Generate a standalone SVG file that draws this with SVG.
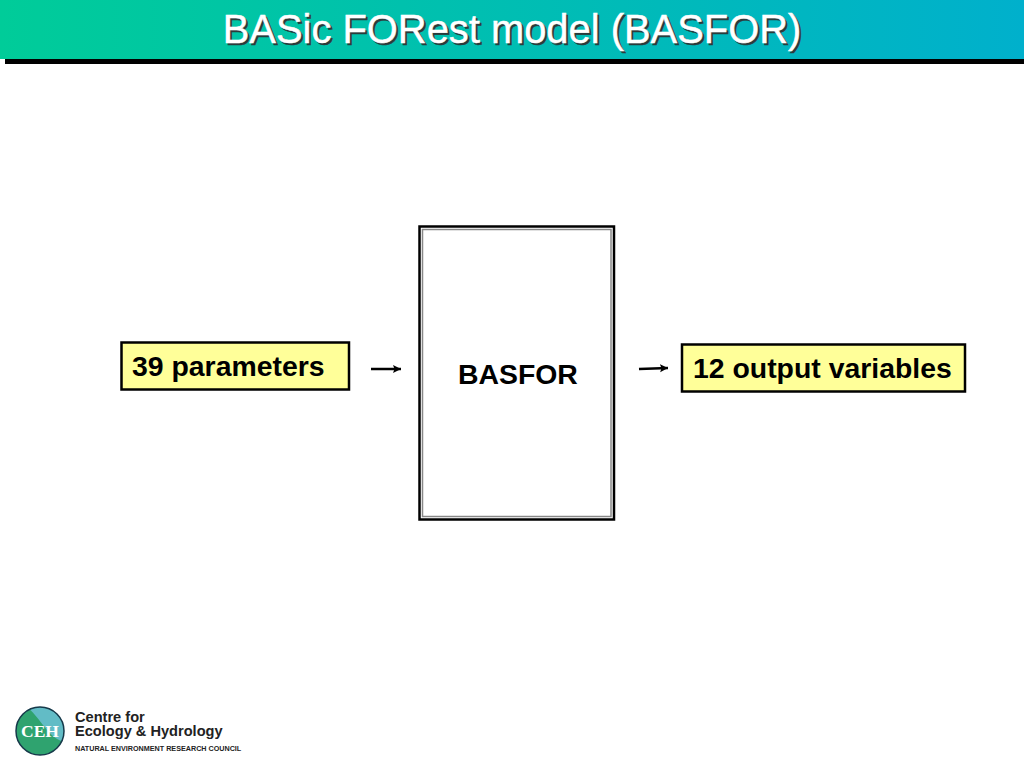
<svg xmlns="http://www.w3.org/2000/svg" width="1024" height="768" viewBox="0 0 1024 768">
<style>
.t{font-family:"Liberation Sans",Arial,sans-serif}
.lbl{font-size:28.400px;font-weight:700;fill:#000}
.box{fill:#ffff99;stroke:#000;stroke-width:2.500}
.arr{stroke:#000;stroke-width:2.500;fill:none;marker-end:url(#ah)}
.title{font-size:39.900px;text-anchor:middle}
</style>
<defs>
<linearGradient id="band" x1="0" x2="1" y1="0" y2="0"><stop offset="0" stop-color="#00cc99"/><stop offset="1" stop-color="#00b0cc"/></linearGradient>
<marker id="ah" markerUnits="userSpaceOnUse" markerWidth="10" markerHeight="10" refX="8" refY="4" orient="auto"><path d="M0 0L8 4L0 8L1.500 4Z" fill="#000"/></marker>
<clipPath id="logo"><circle cx="40" cy="731" r="24"/></clipPath>
</defs>
<rect width="1024" height="768" fill="#fff"/>
<g id="header">
<rect x="5" y="59" width="1019" height="5" fill="#000"/>
<rect x="0" y="0" width="1024" height="59" fill="url(#band)"/>
<text class="t title" x="514" y="45" fill="#2b3b3b" stroke="#2b3b3b" stroke-width="0.500">BASic FORest model (BASFOR)</text>
<text class="t title" x="512" y="43" fill="#fff" stroke="#fff" stroke-width="0.500">BASic FORest model (BASFOR)</text>
</g>
<g id="connectors">
<line class="arr" x1="371" y1="369" x2="401" y2="369"/>
<line class="arr" x1="639" y1="369" x2="668" y2="368"/>
</g>
<g id="node-parameters">
<rect class="box" x="121.500" y="342.500" width="227.500" height="47"/>
<text class="t lbl" x="132" y="376">39 parameters</text>
</g>
<g id="node-basfor">
<rect x="419.500" y="226.500" width="194.500" height="293" fill="#fff" stroke="#000" stroke-width="2.500"/>
<rect x="422.500" y="229.500" width="188.500" height="287" fill="#fff" stroke="#888" stroke-width="1.500"/>
<text class="t lbl" x="458" y="384">BASFOR</text>
</g>
<g id="node-output">
<rect class="box" x="682" y="344.500" width="283" height="47"/>
<text class="t lbl" x="693" y="378">12 output variables</text>
</g>
<g id="logo-ceh">
<circle cx="40" cy="731" r="24" fill="#2fa36f"/>
<path clip-path="url(#logo)" d="M24 704C34 712 40 722 48 731C54 738 60 742 68 742V700H24Z" fill="#62bcc6"/>
<circle cx="40" cy="731" r="24" fill="none" stroke="#16394a" stroke-width="1.500"/>
<text x="40" y="737" text-anchor="middle" font-family="'Liberation Serif',serif" font-weight="700" font-size="17.500" fill="#fff">CEH</text>
<text class="t" x="75" y="722" font-size="14.600" font-weight="700" fill="#222">Centre for</text>
<text class="t" x="75" y="736" font-size="14.600" font-weight="700" fill="#222">Ecology &amp; Hydrology</text>
<text class="t" x="75" y="751" font-size="7.200" font-weight="700" fill="#222">NATURAL ENVIRONMENT RESEARCH COUNCIL</text>
</g>
</svg>
